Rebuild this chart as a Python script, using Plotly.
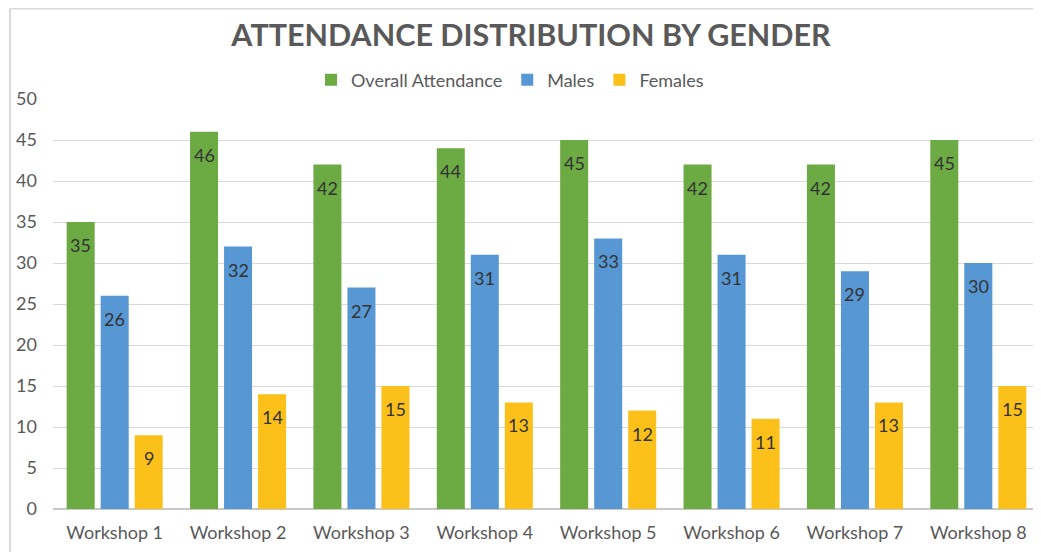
import plotly.graph_objects as go

categories = ["Workshop 1", "Workshop 2", "Workshop 3", "Workshop 4",
              "Workshop 5", "Workshop 6", "Workshop 7", "Workshop 8"]
overall = [35, 46, 42, 44, 45, 42, 42, 45]
males = [26, 32, 27, 31, 33, 31, 29, 30]
females = [9, 14, 15, 13, 12, 11, 13, 15]

series = [
    ("Overall Attendance", overall, "#6caa44", -34),
    ("Males", males, "#5697d4", 0),
    ("Females", females, "#fbc11a", 34),
]

FONT = "Lato"
# page has an 8px body margin: figure coords = page coords - 8
W, H = 1033, 544
L, R, T, B = 45, 1, 91, 43
PW, PH = W - L - R, H - T - B


def px_to_paper_x(x):
    return (x - L) / PW


def px_to_paper_y(y):
    return (H - B - y) / PH


fig = go.Figure()
annotations = []
for name, vals, color, shift in series:
    fig.add_trace(go.Bar(
        name=name, x=categories, y=vals,
        marker=dict(color=color, line=dict(width=0)),
        hoverinfo="x+y+name",
    ))
    for c, v in zip(categories, vals):
        annotations.append(dict(
            x=c, y=v, xref="x", yref="y", text=str(v), showarrow=False,
            xshift=shift, yshift=-23, yanchor="middle",
            font=dict(family=FONT, size=18, color="#333333"),
        ))

shapes = [
    dict(type="line", xref="paper", yref="paper",
         x0=px_to_paper_x(2), x1=1.05, y0=px_to_paper_y(0.5), y1=px_to_paper_y(0.5),
         line=dict(color="#d9d9d9", width=2)),
    dict(type="line", xref="paper", yref="paper",
         x0=px_to_paper_x(2), x1=px_to_paper_x(2), y0=-0.2, y1=px_to_paper_y(0.5),
         line=dict(color="#d9d9d9", width=2)),
]

fig.update_layout(
    width=W, height=H,
    margin=dict(l=L, r=R, t=T, b=B, autoexpand=False),
    paper_bgcolor="white", plot_bgcolor="white",
    barmode="group", bargap=0.173, bargroupgap=0.176,
    title=dict(text="<b>ATTENDANCE DISTRIBUTION BY GENDER</b>",
               xref="paper", x=px_to_paper_x(523), xanchor="center",
               yref="container", y=1 - 27 / H, yanchor="middle",
               font=dict(family=FONT, size=30.5, color="#595959")),
    legend=dict(orientation="h", x=px_to_paper_x(502), xanchor="center",
                y=px_to_paper_y(72), yanchor="middle",
                font=dict(family=FONT, size=18, color="#595959"),
                itemwidth=30, traceorder="normal"),
    annotations=annotations,
    shapes=shapes,
    font=dict(family=FONT, color="#595959"),
)
fig.update_yaxes(range=[0, 50], dtick=5, showgrid=True, gridcolor="#d9d9d9",
                 gridwidth=1, zeroline=True, zerolinecolor="#c8c8c8",
                 zerolinewidth=1.5, showline=False, ticks="",
                 tickfont=dict(family=FONT, size=18, color="#595959"),
                 ticklabelstandoff=15)
fig.update_xaxes(showline=False, ticks="", showgrid=False,
                 tickfont=dict(family=FONT, size=18, color="#595959"),
                 ticklabelstandoff=11)

fig.write_html("out.html")
